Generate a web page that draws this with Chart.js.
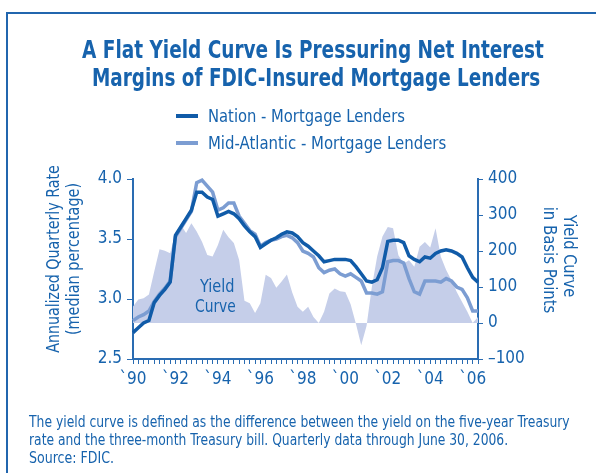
<!DOCTYPE html>
<html>
<head>
<meta charset="utf-8">
<script src="https://cdn.jsdelivr.net/npm/chart.js@4.4.1/dist/chart.umd.min.js"></script>
<style>
  body { margin: 0; width: 596px; height: 473px; overflow: hidden; background: #fff; position: relative;
    font-family: 'Liberation Sans Narrow', 'DejaVu Sans Condensed', Roboto, sans-serif; color: #1763ad; }
  #frame { position: absolute; left: 6px; top: 12px; width: 620px; height: 500px;
    border-top: 2.5px solid #2166ae; border-left: 2.5px solid #2166ae; }
  #chart { position: absolute; left: 0; top: 0; }
  .t { position: absolute; white-space: nowrap; line-height: 1; }
  .key { position: absolute; height: 4px; width: 22px; }
</style>
</head>
<body>
<div id="frame"></div>
<canvas id="chart" width="596" height="473"></canvas>
<div class="key" style="left:176px;top:114px;background:#105ba8"></div>
<div class="key" style="left:176px;top:141px;background:#7c9dd2"></div>
<script>
// quarterly, 1990 Q1 .. 2006 Q2
const years = ['1990','1991','1992','1993','1994','1995','1996','1997','1998','1999','2000','2001','2002','2003','2004','2005','2006'];
const quarters = [];
years.forEach(y => ['Q1','Q2','Q3','Q4'].forEach(q => quarters.push(y + ' ' + q)));
quarters.length = 66;

const tickLabels = ['`90','`92','`94','`96','`98','`00','`02','`04','`06'];

// annualized quarterly rate (median %), left axis
const nation = [
  2.72, 2.76, 2.80, 2.82, 2.97, 3.03, 3.08, 3.14, 3.53, 3.60, 3.67, 3.74, 3.89, 3.89, 3.85, 3.83,
  3.69, 3.71, 3.73, 3.71, 3.67, 3.61, 3.56, 3.52, 3.43, 3.46, 3.49, 3.51, 3.54, 3.56, 3.55, 3.52,
  3.47, 3.44, 3.40, 3.36, 3.31, 3.32, 3.33, 3.33, 3.33, 3.32, 3.27, 3.21, 3.15, 3.14, 3.16, 3.26,
  3.48, 3.49, 3.49, 3.47, 3.36, 3.33, 3.31, 3.35, 3.34, 3.38, 3.40, 3.41, 3.40, 3.38, 3.35, 3.26,
  3.18, 3.14
];
const midAtlantic = [
  2.82, 2.85, 2.87, 2.90, 2.98, 3.04, 3.09, 3.15, 3.52, 3.59, 3.66, 3.73, 3.97, 3.99, 3.94, 3.89,
  3.74, 3.76, 3.80, 3.80, 3.69, 3.63, 3.57, 3.54, 3.44, 3.47, 3.49, 3.50, 3.52, 3.53, 3.51, 3.47,
  3.40, 3.38, 3.35, 3.26, 3.22, 3.24, 3.25, 3.21, 3.19, 3.21, 3.18, 3.15, 3.05, 3.05, 3.04, 3.06,
  3.31, 3.32, 3.32, 3.30, 3.17, 3.06, 3.04, 3.15, 3.15, 3.15, 3.14, 3.17, 3.15, 3.10, 3.08, 3.01,
  2.90, 2.90
];
// yield curve in basis points, right axis
const yieldCurve = [
  46, 65, 69, 79, 143, 205, 201, 194, 250, 273, 250, 277, 254, 226, 189, 185,
  217, 259, 238, 222, 175, 62, 55, 28, 55, 134, 125, 98, 115, 135, 85, 45,
  31, 45, 17, 0, 31, 82, 96, 88, 86, 52, -2, -62, -8, 100, 185, 240,
  267, 263, 188, 165, 174, 156, 212, 225, 210, 263, 184, 147, 119, 86, 58, 31,
  0, 17
];

const FONT = "'Liberation Sans Narrow', 'DejaVu Sans Condensed', Roboto, sans-serif";
const TEXT = '#1763ad';
const AXIS = '#2a6cb2';

Chart.defaults.font.family = FONT;
Chart.defaults.color = TEXT;

new Chart(document.getElementById('chart'), {
  type: 'line',
  data: {
    labels: quarters,
    datasets: [{
      label: 'Nation - Mortgage Lenders',
      data: nation,
      yAxisID: 'y',
      borderColor: '#105ba8',
      borderWidth: 3.5,
      pointRadius: 0,
      order: 0,
      clip: 4
    }, {
      label: 'Mid-Atlantic - Mortgage Lenders',
      data: midAtlantic,
      yAxisID: 'y',
      borderColor: '#7c9dd2',
      borderWidth: 3.5,
      pointRadius: 0,
      order: 1,
      clip: 4
    }, {
      label: 'Yield Curve',
      data: yieldCurve,
      yAxisID: 'y1',
      borderWidth: 0,
      borderColor: 'rgba(0,0,0,0)',
      backgroundColor: '#c5cee9',
      fill: 'origin',
      pointRadius: 0,
      order: 2
    }]
  },
  options: {
    responsive: false,
    animation: false,
    layout: { padding: { left: 0, right: 0, top: 179, bottom: 0 } },
    plugins: { legend: { display: false }, tooltip: { enabled: false } },
    scales: {
      x: {
        offset: false,
        grid: { drawOnChartArea: false, tickLength: 5, color: AXIS },
        border: { color: AXIS, width: 2 },
        ticks: {
          autoSkip: false, maxRotation: 0, padding: 5,
          font: { size: 17 },
          callback: (v, i) => i % 8 === 0 ? tickLabels[i / 8] : ''
        },
        afterFit(s) { s.height = 473 - 359; }
      },
      y: {
        position: 'left',
        min: 2.5, max: 4.0,
        grid: { drawOnChartArea: false, tickLength: 6, color: AXIS },
        border: { color: AXIS, width: 2 },
        ticks: { stepSize: 0.5, padding: 5, font: { size: 17 }, callback: v => v.toFixed(1) },
        afterFit(s) { s.width = 133; }
      },
      y1: {
        position: 'right',
        min: -100, max: 400,
        grid: { drawOnChartArea: false, tickLength: 5, color: AXIS },
        border: { color: AXIS, width: 2 },
        ticks: { stepSize: 100, padding: 5, font: { size: 17 }, callback: v => v < 0 ? '\u2013' + Math.abs(v) : v },
        afterFit(s) { s.width = 596 - 478; }
      }
    }
  }
});

// page text, stretched to the widths measured on the reference
function label(text, o) {
  const el = document.createElement('div');
  el.className = 't';
  el.textContent = text;
  el.style.fontSize = o.size + 'px';
  if (o.bold) el.style.fontWeight = 'bold';
  document.body.appendChild(el);
  const s = o.w / el.offsetWidth;
  if (o.rot) {
    el.style.left = o.cx + 'px';
    el.style.top = o.cy + 'px';
    el.style.transform = `translate(-50%,-50%) rotate(${o.rot}deg) scaleX(${s})`;
  } else {
    const left = o.left !== undefined ? o.left : o.cx - o.w / 2;
    el.style.left = left + 'px';
    el.style.top = (o.base - 0.8465 * o.size) + 'px';
    el.style.transformOrigin = '0 0';
    el.style.transform = `scaleX(${s})`;
  }
}

label('A Flat Yield Curve Is Pressuring Net Interest', { size: 25, bold: true, cx: 312.6, base: 58, w: 462 });
label('Margins of FDIC-Insured Mortgage Lenders', { size: 25, bold: true, cx: 315.5, base: 86, w: 448 });
label('Nation - Mortgage Lenders', { size: 17, left: 208.3, base: 122.7, w: 197 });
label('Mid-Atlantic - Mortgage Lenders', { size: 17, left: 208.3, base: 149, w: 238 });
label('Annualized Quarterly Rate', { size: 17, cx: 52.5, cy: 259, w: 188, rot: -90 });
label('(median percentage)', { size: 17, cx: 72.5, cy: 259, w: 152, rot: -90 });
label('Yield Curve', { size: 17, cx: 569, cy: 256, w: 82, rot: 90 });
label('in Basis Points', { size: 17, cx: 549, cy: 260, w: 107, rot: 90 });
label('Yield', { size: 18, left: 200, base: 292, w: 35 });
label('Curve', { size: 18, left: 195, base: 312.7, w: 41 });
label('The yield curve is defined as the difference between the yield on the five-year Treasury', { size: 16, left: 28.5, base: 428, w: 541 });
label('rate and the three-month Treasury bill. Quarterly data through June 30, 2006.', { size: 16, left: 28.5, base: 446, w: 479 });
label('Source: FDIC.', { size: 16, left: 28.5, base: 463.5, w: 85 });
</script>
</body>
</html>
